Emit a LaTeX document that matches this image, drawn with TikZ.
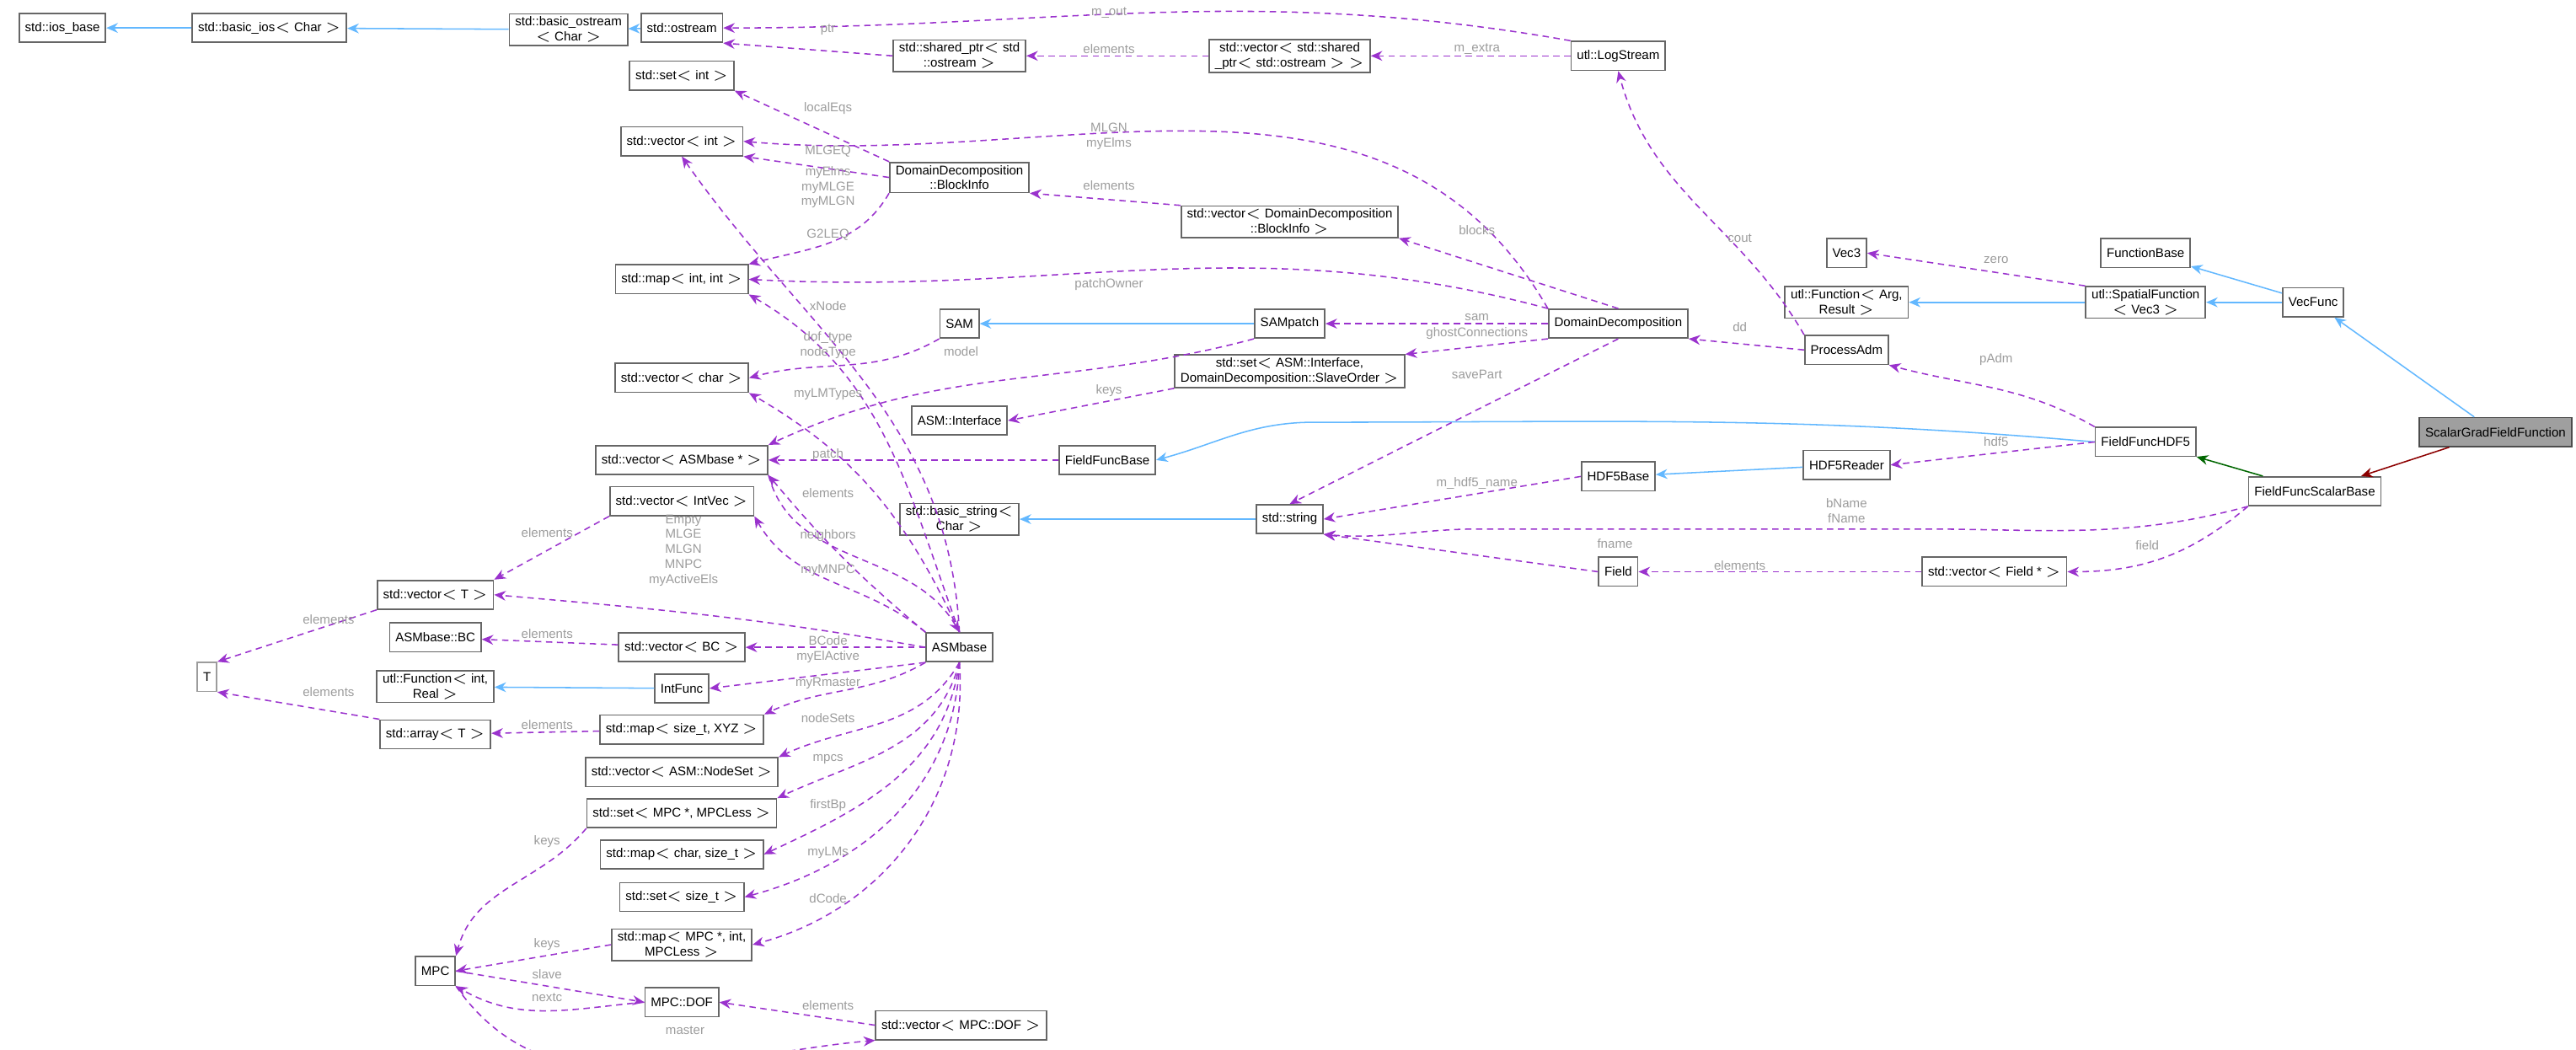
\documentclass[tikz,border=0pt]{standalone}
\usepackage{fontspec}
\setmainfont{Liberation Sans}
\usetikzlibrary{arrows.meta}
\definecolor{usecol}{HTML}{9A32CD}
\definecolor{inhcol}{HTML}{63B8FF}
\definecolor{lblcol}{HTML}{9C9C9C}
\definecolor{boxcol}{HTML}{666666}
\tikzset{
  cls/.style={draw=boxcol,fill=white,line width=0.5pt,inner xsep=2pt,inner ysep=1pt,minimum height=10pt,align=center,font=\fontsize{4.4}{5.2}\selectfont},
  inh/.style={draw=inhcol,line width=0.45pt,-{Stealth[length=4pt,width=3.4pt]}},
  use/.style={draw=usecol,dashed,dash pattern=on 2.2pt off 1.6pt,line width=0.45pt,-{Stealth[length=4pt,width=3.4pt]}},
  lbl/.style={text=lblcol,align=center,inner sep=0pt,font=\fontsize{4.4}{5.2}\selectfont}
}
\begin{document}
\begin{tikzpicture}[x=0.02cm,y=-0.02cm]
\useasboundingbox (0,0) rectangle (1568,639);
% classes
\node[cls] (iosbase) at (38,17) {std::ios\_base};
\node[cls] (basicios) at (164,17) {std::basic\_ios$<$ Char $>$};
\node[cls] (basicostream) at (346,18) {std::basic\_ostream\\$<$ Char $>$};
\node[cls] (ostream) at (415,17) {std::ostream};
\node[cls] (sharedptr) at (584,34) {std::shared\_ptr$<$ std\\::ostream $>$};
\node[cls] (vecshared) at (785,34) {std::vector$<$ std::shared\\\_ptr$<$ std::ostream $>$ $>$};
\node[cls] (logstream) at (985,34) {utl::LogStream};
\node[cls] (setint) at (415,46) {std::set$<$ int $>$};
\node[cls] (vecint) at (415,86) {std::vector$<$ int $>$};
\node[cls] (blockinfo) at (584,108) {DomainDecomposition\\::BlockInfo};
\node[cls] (vecblock) at (785,135) {std::vector$<$ DomainDecomposition\\::BlockInfo $>$};
\node[cls] (mapint) at (415,170) {std::map$<$ int, int $>$};
\node[cls] (sam) at (584,197) {SAM};
\node[cls] (sampatch) at (785,197) {SAMpatch};
\node[cls] (dd) at (985,197) {DomainDecomposition};
\node[cls] (vecchar) at (415,230) {std::vector$<$ char $>$};
\node[cls] (setiface) at (785,226) {std::set$<$ ASM::Interface,\\ DomainDecomposition::SlaveOrder $>$};
\node[cls] (asmiface) at (584,256) {ASM::Interface};
\node[cls] (vecasm) at (415,280) {std::vector$<$ ASMbase * $>$};
\node[cls] (ffbase) at (674,280) {FieldFuncBase};
\node[cls] (vecintvec) at (415,305) {std::vector$<$ IntVec $>$};
\node[cls] (basicstring) at (584,316) {std::basic\_string$<$\\ Char $>$};
\node[cls] (string) at (785,316) {std::string};
\node[cls] (hdf5base) at (985,290) {HDF5Base};
\node[cls] (field) at (985,348) {Field};
\node[cls] (vecfield) at (1214,348) {std::vector$<$ Field * $>$};
\node[cls] (vec3) at (1124,154) {Vec3};
\node[cls] (utlfuncarg) at (1124,184) {utl::Function$<$ Arg,\\ Result $>$};
\node[cls] (processadm) at (1124,213) {ProcessAdm};
\node[cls] (hdf5reader) at (1124,283) {HDF5Reader};
\node[cls] (functionbase) at (1306,154) {FunctionBase};
\node[cls] (spatial) at (1306,184) {utl::SpatialFunction\\$<$ Vec3 $>$};
\node[cls] (ffhdf5) at (1306,269) {FieldFuncHDF5};
\node[cls] (vecfunc) at (1408,184) {VecFunc};
\node[cls] (ffscalar) at (1409,299) {FieldFuncScalarBase};
\node[cls,fill=gray!75,draw=gray!60!black] (scalargrad) at (1519,263) {ScalarGradFieldFunction};
\node[cls] (vect) at (265,362) {std::vector$<$ T $>$};
\node[cls,draw=lblcol] (t) at (126,412) {T};
\node[cls] (asmbc) at (265,388) {ASMbase::BC};
\node[cls] (vecbc) at (415,394) {std::vector$<$ BC $>$};
\node[cls] (asmbase) at (584,394) {ASMbase};
\node[cls] (utlfuncint) at (265,418) {utl::Function$<$ int,\\ Real $>$};
\node[cls] (intfunc) at (415,419) {IntFunc};
\node[cls] (arrayt) at (265,447) {std::array$<$ T $>$};
\node[cls] (mapxyz) at (415,444) {std::map$<$ size\_t, XYZ $>$};
\node[cls] (vecnodeset) at (415,470) {std::vector$<$ ASM::NodeSet $>$};
\node[cls] (setmpc) at (415,495) {std::set$<$ MPC *, MPCLess $>$};
\node[cls] (mapchar) at (415,520) {std::map$<$ char, size\_t $>$};
\node[cls] (setsize) at (415,546) {std::set$<$ size\_t $>$};
\node[cls] (mapmpc) at (415,575) {std::map$<$ MPC *, int,\\ MPCLess $>$};
\node[cls] (mpc) at (265,591) {MPC};
\node[cls] (dof) at (415,610) {MPC::DOF};
\node[cls] (vecdof) at (585,624) {std::vector$<$ MPC::DOF $>$};
% inheritance
\draw[inh] (basicios) -- (iosbase);
\draw[inh] (basicostream) -- (basicios);
\draw[inh] (ostream) -- (basicostream);
\draw[inh] (sampatch) -- (sam);
\draw[inh] (intfunc) -- (utlfuncint);
\draw[inh] (string) -- (basicstring);
\draw[inh] (hdf5reader) -- (hdf5base);
\draw[inh] (ffhdf5.west) to[out=175,in=0] (800,257) to[out=180,in=15] (ffbase.east);
\draw[inh] (spatial) -- (utlfuncarg);
\draw[inh] (vecfunc) -- (spatial);
\draw[inh] (vecfunc) -- (functionbase);
\draw[inh] (scalargrad) -- (vecfunc);
\draw[draw=green!40!black,line width=0.45pt,-{Stealth[length=4pt,width=3.4pt]}] (ffscalar) -- (ffhdf5);
\draw[draw=red!55!black,line width=0.45pt,-{Stealth[length=4pt,width=3.4pt]}] (scalargrad) -- (ffscalar);
% usage
\draw[use] (logstream.north west) to[out=170,in=0] (ostream.east);
\draw[use] (sharedptr.west) -- (ostream.south east);
\draw[use] (vecshared) -- (sharedptr);
\draw[use] (logstream) -- (vecshared);
\draw[use] (blockinfo.north west) -- (setint.south east);
\draw[use] (blockinfo.west) -- (vecint.south east);
\draw[use] (blockinfo.south west) to[out=-120,in=15] (mapint.north east);
\draw[use] (dd.north west) to[out=120,in=-5] (vecint.east);
\draw[use] (vecblock.north west) -- (blockinfo.south east);
\draw[use] (dd.north) -- (vecblock.south east);
\draw[use] (dd.north west) to[out=165,in=-3] (mapint.east);
\draw[use] (dd) -- (sampatch);
\draw[use] (dd.south west) -- (setiface.north east);
\draw[use] (dd.south) -- (string.north);
\draw[use] (setiface.south west) -- (asmiface.east);
\draw[use] (sam.south west) to[out=-150,in=15] (vecchar.east);
\draw[use] (sampatch.south west) to[out=-165,in=25] (vecasm.north east);
\draw[use] (ffbase) -- (vecasm);
\draw[use] (asmbase.north) to[out=93,in=-55] (vecint.south);
\draw[use] (asmbase.north) to[out=110,in=-30] (mapint.south east);
\draw[use] (asmbase.north) to[out=115,in=-30] (vecchar.south east);
\draw[use] (vecasm.south east) to[out=-75,in=120] (asmbase.north);
\draw[use] (asmbase.north west) to[out=140,in=-50] (vecasm.south east);
\draw[use] (asmbase.north west) to[out=140,in=-60] (vecintvec.south east);
\draw[use] (asmbase.west) to[out=170,in=-5] (vect.east);
\draw[use] (vecintvec.south west) -- (vect.north east);
\draw[use] (vect.south west) -- (t.north east);
\draw[use] (arrayt.north west) -- (t.south east);
\draw[use] (vecbc) -- (asmbc);
\draw[use] (asmbase) -- (vecbc);
\draw[use] (asmbase.south west) -- (intfunc.east);
\draw[use] (asmbase.south west) to[out=-150,in=25] (mapxyz.north east);
\draw[use] (mapxyz) -- (arrayt);
\draw[use] (asmbase.south) to[out=-120,in=25] (vecnodeset.north east);
\draw[use] (asmbase.south) to[out=-105,in=25] (setmpc.north east);
\draw[use] (asmbase.south) to[out=-98,in=25] (mapchar.east);
\draw[use] (asmbase.south) to[out=-92,in=15] (setsize.east);
\draw[use] (asmbase.south) to[out=-86,in=15] (mapmpc.east);
\draw[use] (setmpc.south west) to[out=-130,in=75] (mpc.north east);
\draw[use] (mapmpc.west) -- (mpc.east);
\draw[use] (mpc.east) -- (dof.west);
\draw[use] (dof.west) to[out=185,in=-30] (mpc.south east);
\draw[use] (vecdof.west) -- (dof.east);
\draw[use] (mpc.south east) to[out=-55,in=185] (vecdof.south west);
\draw[use] (processadm.north west) to[out=120,in=-75] (logstream.south);
\draw[use] (processadm.west) -- (dd.south east);
\draw[use] (spatial.north west) -- (vec3.east);
\draw[use] (ffhdf5.north west) to[out=150,in=-15] (processadm.south east);
\draw[use] (ffhdf5.west) -- (hdf5reader.east);
\draw[use] (hdf5base.west) -- (string.east);
\draw[use] (ffscalar.south west) to[out=195,in=0] (1170,322) -- (900,322) to[out=180,in=-5] (string.south east);
\draw[use] (ffscalar.south west) to[out=-140,in=0] (vecfield.east);
\draw[use] (vecfield) -- (field);
\draw[use] (field.west) -- (string.south east);
% labels
\node[lbl] at (675,8) {m\_out};
\node[lbl] at (504,18) {ptr};
\node[lbl] at (675,30) {elements};
\node[lbl] at (899,30) {m\_extra};
\node[lbl] at (504,66) {localEqs};
\node[lbl] at (504,92) {MLGEQ};
\node[lbl] at (504,114) {myElms\\myMLGE\\myMLGN};
\node[lbl] at (675,83) {MLGN\\myElms};
\node[lbl] at (675,113) {elements};
\node[lbl] at (899,140) {blocks};
\node[lbl] at (504,143) {G2LEQ};
\node[lbl] at (675,173) {patchOwner};
\node[lbl] at (504,186) {xNode};
\node[lbl] at (899,193) {sam};
\node[lbl] at (899,203) {ghostConnections};
\node[lbl] at (504,210) {dof\_type\\nodeType};
\node[lbl] at (585,214) {model};
\node[lbl] at (899,228) {savePart};
\node[lbl] at (675,238) {keys};
\node[lbl] at (504,240) {myLMTypes};
\node[lbl] at (504,277) {patch};
\node[lbl] at (899,294) {m\_hdf5\_name};
\node[lbl] at (504,300) {elements};
\node[lbl] at (504,326) {neighbors};
\node[lbl] at (333,324) {elements};
\node[lbl] at (416,335) {Empty\\MLGE\\MLGN\\MNPC\\myActiveEls};
\node[lbl] at (504,347) {myMNPC};
\node[lbl] at (983,331) {fname};
\node[lbl] at (200,377) {elements};
\node[lbl] at (333,386) {elements};
\node[lbl] at (504,390) {BCode};
\node[lbl] at (504,400) {myElActive};
\node[lbl] at (504,416) {myRmaster};
\node[lbl] at (200,421) {elements};
\node[lbl] at (333,441) {elements};
\node[lbl] at (504,437) {nodeSets};
\node[lbl] at (504,462) {mpcs};
\node[lbl] at (504,490) {firstBp};
\node[lbl] at (504,519) {myLMs};
\node[lbl] at (504,547) {dCode};
\node[lbl] at (333,512) {keys};
\node[lbl] at (333,575) {keys};
\node[lbl] at (333,593) {slave};
\node[lbl] at (333,607) {nextc};
\node[lbl] at (504,612) {elements};
\node[lbl] at (417,627) {master};
\node[lbl] at (1059,145) {cout};
\node[lbl] at (1215,158) {zero};
\node[lbl] at (1059,199) {dd};
\node[lbl] at (1215,219) {pAdm};
\node[lbl] at (1215,269) {hdf5};
\node[lbl] at (1124,311) {bName\\fName};
\node[lbl] at (1307,332) {field};
\node[lbl] at (1059,344) {elements};
\end{tikzpicture}
\end{document}
